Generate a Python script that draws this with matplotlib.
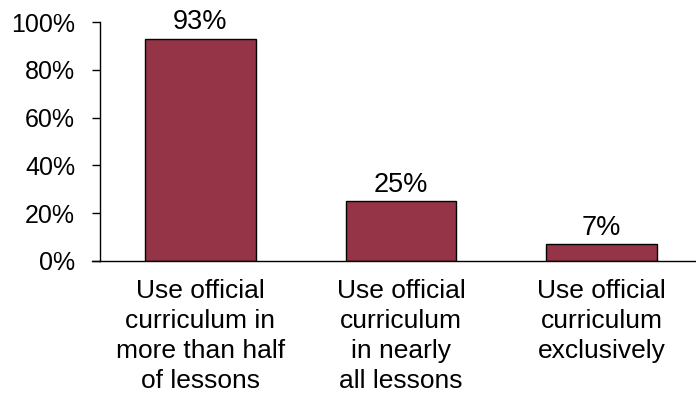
import matplotlib
matplotlib.use("Agg")
import matplotlib.pyplot as plt
import numpy as np

# chart data
categories = ["Use official\ncurriculum in\nmore than half\nof lessons",
              "Use official\ncurriculum\nin nearly\nall lessons",
              "Use official\ncurriculum\nexclusively"]
values = [93, 25, 7]
yticks = [0, 20, 40, 60, 80, 100]

plt.rcParams["font.family"] = ["Liberation Sans", "DejaVu Sans"]

fig = plt.figure(figsize=(6.96, 3.95), dpi=100)
ax = fig.add_axes([100 / 696, 134 / 395, 602 / 696, 239 / 395])

x = np.arange(len(categories))
bars = ax.bar(x, values, width=0.55, color="#943446", edgecolor="black", linewidth=1)

for b, v in zip(bars, values):
    ax.text(b.get_x() + b.get_width() / 2, v + 1.5, f"{v}%",
            ha="center", va="bottom", fontsize=19.5)

ax.set_xlim(-0.5, 2.5)
ax.set_ylim(0, 100)
ax.set_yticks(yticks)
ax.set_yticklabels([f"{t}%" for t in yticks], fontsize=18)
ax.set_xticks(x)
ax.set_xticklabels(categories, fontsize=19, linespacing=1.31)
ax.tick_params(axis="x", length=0, pad=13)
ax.tick_params(axis="y", length=6, width=1, direction="out", pad=12)

for s in ["top", "right"]:
    ax.spines[s].set_visible(False)
ax.spines["left"].set_linewidth(1)
ax.spines["bottom"].set_linewidth(1)

# the zero line sticks out a little to the left like the original
ax.plot([-0.54, -0.5], [0, 0], color="black", lw=1, clip_on=False)

fig.savefig("out.png", dpi=100)
